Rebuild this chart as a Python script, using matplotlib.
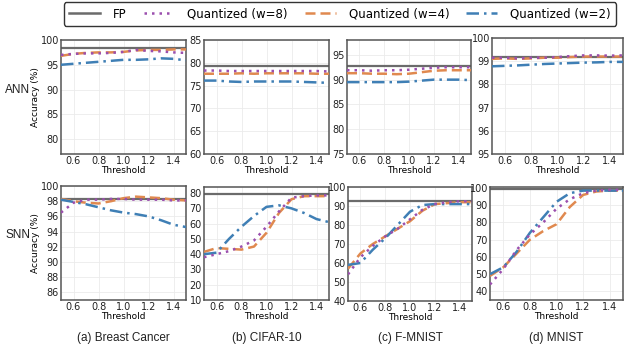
import matplotlib
matplotlib.use("Agg")
import matplotlib.pyplot as plt
import numpy as np

# thresholds
threshold = [0.5, 0.6, 0.7, 0.8, 0.9, 1.0, 1.1, 1.2, 1.3, 1.4, 1.5]

datasets = ["(a) Breast Cancer", "(b) CIFAR-10", "(c) F-MNIST", "(d) MNIST"]

# ANN row
ann_fp = [98.3, 79.3, 92.7, 99.18]
ann_w8 = [
    [97.0, 97.2, 97.3, 97.3, 97.4, 97.6, 98.0, 97.8, 97.7, 97.5, 97.4],
    [78.3, 78.3, 78.2, 78.2, 78.2, 78.2, 78.2, 78.2, 78.2, 78.2, 78.1],
    [91.9, 91.9, 91.8, 91.9, 91.9, 92.0, 92.2, 92.4, 92.5, 92.5, 92.5],
    [99.15, 99.15, 99.12, 99.15, 99.15, 99.18, 99.22, 99.25, 99.25, 99.24, 99.25],
]
ann_w4 = [
    [96.8, 97.2, 97.4, 97.5, 97.5, 97.6, 97.9, 98.0, 98.0, 98.1, 98.1],
    [77.6, 77.6, 77.6, 77.7, 77.6, 77.7, 77.7, 77.7, 77.7, 77.6, 77.6],
    [91.3, 91.3, 91.2, 91.2, 91.1, 91.2, 91.5, 91.8, 91.9, 91.9, 91.9],
    [99.1, 99.12, 99.1, 99.12, 99.15, 99.15, 99.18, 99.2, 99.2, 99.2, 99.2],
]
ann_w2 = [
    [95.0, 95.2, 95.4, 95.6, 95.8, 96.0, 96.0, 96.1, 96.3, 96.2, 95.9],
    [76.1, 76.1, 75.9, 75.8, 75.9, 75.9, 75.9, 75.9, 75.8, 75.7, 75.6],
    [89.5, 89.5, 89.5, 89.5, 89.5, 89.6, 89.8, 90.0, 90.0, 90.0, 89.9],
    [98.78, 98.8, 98.82, 98.85, 98.88, 98.9, 98.92, 98.94, 98.95, 98.97, 98.97],
]

# SNN row
snn_fp = [98.3, 79.5, 92.5, 99.7]
snn_w8 = [
    [96.5, 97.8, 98.2, 98.2, 98.3, 98.3, 98.2, 98.2, 98.2, 98.1, 98.1],
    [38.0, 40.0, 42.0, 45.0, 49.0, 58.0, 68.0, 77.0, 78.0, 78.5, 78.5],
    [54.0, 63.0, 69.0, 74.0, 78.0, 83.0, 88.0, 91.0, 92.0, 92.5, 92.5],
    [44.0, 53.0, 64.0, 73.0, 80.0, 88.0, 93.5, 97.0, 98.5, 99.0, 99.0],
]
snn_w4 = [
    [98.3, 98.0, 97.8, 97.7, 98.0, 98.4, 98.6, 98.5, 98.4, 98.2, 98.1],
    [41.5, 44.0, 43.5, 43.0, 45.0, 54.0, 67.0, 76.0, 78.0, 78.0, 78.0],
    [57.0, 65.0, 70.0, 74.0, 78.0, 82.0, 87.5, 91.0, 91.5, 92.0, 92.0],
    [49.0, 54.0, 62.0, 70.0, 75.0, 79.0, 89.0, 96.0, 98.0, 98.5, 98.5],
]
snn_w2 = [
    [98.2, 97.9, 97.6, 97.2, 96.8, 96.5, 96.3, 96.0, 95.5, 94.9, 94.6],
    [40.0, 41.0, 50.0, 58.0, 65.0, 71.0, 72.0, 70.0, 67.0, 63.0, 61.0],
    [59.0, 60.0, 67.0, 73.0, 80.0, 87.0, 90.5, 91.0, 91.0, 91.0, 91.0],
    [50.0, 54.0, 63.0, 74.0, 83.0, 92.0, 97.0, 98.5, 98.5, 98.5, 98.5],
]

ann_ylim = [(77, 100), (60, 85), (75, 98), (95, 100)]
ann_yticks = [[80, 85, 90, 95, 100], [60, 65, 70, 75, 80, 85],
              [75, 80, 85, 90, 95], [95, 96, 97, 98, 99, 100]]
snn_ylim = [(85, 100), (10, 84), (40, 100), (35, 100.6)]
snn_yticks = [[86, 88, 90, 92, 94, 96, 98, 100], [10, 20, 30, 40, 50, 60, 70, 80],
              [40, 50, 60, 70, 80, 90, 100], [40, 50, 60, 70, 80, 90, 100]]

c_fp = "#6b6b6b"
c_w8 = "#9b4fae"
c_w4 = "#e0894f"
c_w2 = "#3f7fb5"

W, H = 640, 364
fig = plt.figure(figsize=(6.4, 3.64), dpi=100)

# axes boxes in pixels (left, right, top, bottom)
row1 = [(61, 186, 40, 154), (204, 329, 40, 154), (347, 471, 40, 154), (492, 623, 38, 154)]
row2 = [(61, 186, 186, 300), (204, 329, 187, 300), (348, 472, 187, 301), (490, 623, 187, 300)]


def make_ax(box):
    l, r, t, b = box
    return fig.add_axes([l / W, 1 - b / H, (r - l) / W, (b - t) / H])


def draw(ax, fp, w8, w4, w2, ylim, yticks, ylabel):
    ax.axhline(fp, color=c_fp, lw=1.6, zorder=2)
    ax.plot(threshold, w8, color=c_w8, ls=(0, (1, 2)), lw=1.8, zorder=4)
    ax.plot(threshold, w4, color=c_w4, ls=(0, (4, 2)), lw=1.8, zorder=3)
    ax.plot(threshold, w2, color=c_w2, ls=(0, (5, 2, 1, 2)), lw=1.8, zorder=3)
    ax.set_xlim(0.5, 1.5)
    ax.set_ylim(*ylim)
    ax.set_xticks([0.6, 0.8, 1.0, 1.2, 1.4])
    ax.set_yticks(yticks)
    ax.tick_params(labelsize=7, length=0, pad=1.5, colors="#222222")
    ax.grid(True, color="#ebebeb", lw=0.6)
    ax.set_axisbelow(True)
    for s in ax.spines.values():
        s.set_color("#555555")
        s.set_linewidth(1.1)
    ax.set_xlabel("Threshold", fontsize=6.5, labelpad=0)
    if ylabel:
        ax.set_ylabel("Accuracy (%)", fontsize=6.5)
        ax.yaxis.set_label_coords(-0.165, 0.5)


for i in range(4):
    ax = make_ax(row1[i])
    draw(ax, ann_fp[i], ann_w8[i], ann_w4[i], ann_w2[i], ann_ylim[i], ann_yticks[i], i == 0)
    ax = make_ax(row2[i])
    draw(ax, snn_fp[i], snn_w8[i], snn_w4[i], snn_w2[i], snn_ylim[i], snn_yticks[i], i == 0)
    cx = (row2[i][0] + row2[i][1]) / 2 / W
    fig.text(cx, 1 - 338 / H, datasets[i], ha="center", va="center",
             fontsize=8.5, family="Liberation Sans", color="#222222")

fig.text(18 / W, 1 - 90 / H, "ANN", ha="center", va="center", fontsize=8.5,
         family="Liberation Sans", color="#222222")
fig.text(18 / W, 1 - 235 / H, "SNN", ha="center", va="center", fontsize=8.5,
         family="Liberation Sans", color="#222222")

handles = [
    plt.Line2D([], [], color=c_fp, lw=1.8),
    plt.Line2D([], [], color=c_w8, lw=1.8, ls=(0, (1, 2))),
    plt.Line2D([], [], color=c_w4, lw=1.8, ls=(0, (4, 2))),
    plt.Line2D([], [], color=c_w2, lw=1.8, ls=(0, (5, 2, 1, 2))),
]
labels = ["FP", "Quantized (w=8)", "Quantized (w=4)", "Quantized (w=2)"]
leg = fig.legend(handles, labels, ncol=4, loc="center",
                 bbox_to_anchor=(340 / W, 1 - 14 / H),
                 fontsize=8.5, handlelength=2.6, handletextpad=1.1,
                 borderaxespad=0, borderpad=0.45, columnspacing=1.45, fancybox=True,
                 framealpha=1)
leg.get_frame().set_edgecolor("#333333")
leg.get_frame().set_linewidth(1.0)

fig.savefig("out.png", dpi=100)
